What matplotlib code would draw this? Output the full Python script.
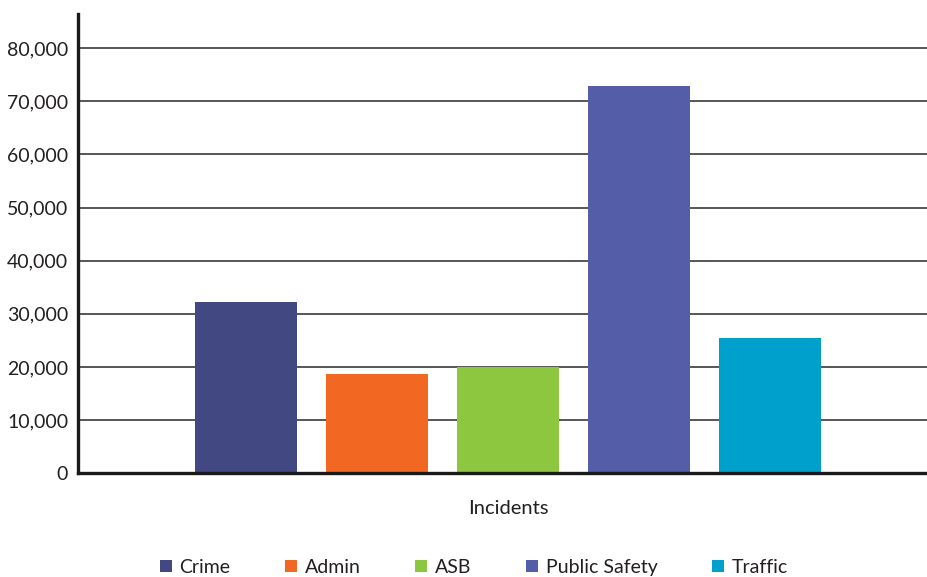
import matplotlib
matplotlib.use("Agg")
import matplotlib.pyplot as plt
import numpy as np
from matplotlib.ticker import FuncFormatter

series = ["Crime", "Admin", "ASB", "Public Safety", "Traffic"]
incidents = [32200, 18600, 19900, 72800, 25400]
colors = ["#424882", "#f26722", "#8dc63f", "#535da8", "#00a0cc"]
category = "Incidents"
yticks = [0, 10000, 20000, 30000, 40000, 50000, 60000, 70000, 80000]

text_color = "#231f20"
plt.rcParams["font.family"] = ["Lato", "DejaVu Sans"]

fig = plt.figure(figsize=(9.27, 5.77), dpi=100)
ax = fig.add_axes([0.0841, 0.180, 0.916, 0.7955])

x = np.arange(len(series))
for i, (name, val, col) in enumerate(zip(series, incidents, colors)):
    ax.bar(x[i], val, width=0.78, color=col, label=name, zorder=3)

ax.set_xlim(-1.282, 5.198)
ax.set_ylim(0, 86400)
ax.set_yticks(yticks)
ax.yaxis.set_major_formatter(FuncFormatter(lambda v, p: f"{int(v):,}"))
ax.grid(axis="y", color="#3a3a3a", linewidth=1.2, zorder=0)
ax.set_axisbelow(True)

ax.set_xticks([2])
ax.set_xticklabels([category])
ax.tick_params(axis="x", length=0, pad=19, labelsize=14.5, labelcolor=text_color)
ax.tick_params(axis="y", length=0, pad=7, labelsize=14, labelcolor=text_color)

for s in ["top", "right"]:
    ax.spines[s].set_visible(False)
for s in ["left", "bottom"]:
    ax.spines[s].set_color("#1a1a1a")
    ax.spines[s].set_linewidth(2.4)
    ax.spines[s].set_zorder(4)

leg = ax.legend(loc="center", bbox_to_anchor=(0.511, 0.017), bbox_transform=fig.transFigure,
                ncol=5, frameon=False, fontsize=14, handlelength=0.62, handleheight=0.62,
                handletextpad=0.4, columnspacing=2.8, borderaxespad=0)
for t in leg.get_texts():
    t.set_color(text_color)

fig.savefig("out.png", dpi=100)
